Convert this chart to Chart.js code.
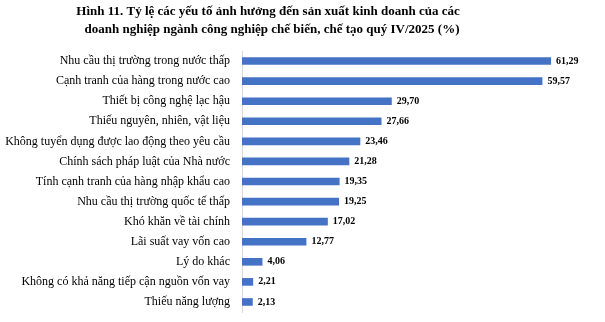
<!DOCTYPE html>
<html>
<head>
<meta charset="utf-8">
<script src="https://cdn.jsdelivr.net/npm/chart.js@4/dist/chart.umd.min.js"></script>
<style>
    html, body { margin: 0; padding: 0; background: #fff; }
    canvas { display: block; }
</style>
</head>
<body>
<canvas id="yeuToChart" width="605" height="322"></canvas>
<script>
// Dữ liệu biểu đồ
var tieuDe = [
    'Hình 11. Tỷ lệ các yếu tố ảnh hưởng đến sản xuất kinh doanh của các',
    'doanh nghiệp ngành công nghiệp chế biến, chế tạo quý IV/2025 (%)'
];
var yeuTo = [
    'Nhu cầu thị trường trong nước thấp',
    'Cạnh tranh của hàng trong nước cao',
    'Thiết bị công nghệ lạc hậu',
    'Thiếu nguyên, nhiên, vật liệu',
    'Không tuyển dụng được lao động theo yêu cầu',
    'Chính sách pháp luật của Nhà nước',
    'Tính cạnh tranh của hàng nhập khẩu cao',
    'Nhu cầu thị trường quốc tế thấp',
    'Khó khăn về tài chính',
    'Lãi suất vay vốn cao',
    'Lý do khác',
    'Không có khả năng tiếp cận nguồn vốn vay',
    'Thiếu năng lượng'
];
var tyLe = [61.29, 59.57, 29.70, 27.66, 23.46, 21.28, 19.35, 19.25, 17.02, 12.77, 4.06, 2.21, 2.13];

// Tiêu đề vẽ tay để căn giữa như bản gốc
var titlePlugin = {
    id: 'tieuDeHinh',
    afterDraw: function(chart) {
        var ctx = chart.ctx;
        ctx.save();
        ctx.fillStyle = '#000';
        ctx.font = 'bold 13px "Liberation Serif"';
        ctx.textAlign = 'center';
        ctx.textBaseline = 'middle';
        ctx.fillText(tieuDe[0], 268, 12);
        ctx.fillText(tieuDe[1], 272, 30);
        ctx.restore();
    }
};

// Nhãn giá trị ở cuối thanh
var valuePlugin = {
    id: 'nhanGiaTri',
    afterDatasetsDraw: function(chart) {
        var ctx = chart.ctx;
        var meta = chart.getDatasetMeta(0);
        ctx.save();
        ctx.fillStyle = '#000';
        ctx.font = 'bold 10px "Liberation Serif"';
        ctx.textAlign = 'left';
        ctx.textBaseline = 'middle';
        meta.data.forEach(function(bar, i) {
            ctx.fillText(tyLe[i].toFixed(2).replace('.', ','), bar.x + 5, bar.y);
        });
        ctx.restore();
    }
};

var ctx = document.getElementById('yeuToChart').getContext('2d');
var chart = new Chart(ctx, {
    type: 'bar',
    data: {
        labels: yeuTo,
        datasets: [{
            data: tyLe,
            backgroundColor: '#4472C4',
            barPercentage: 0.38,
            categoryPercentage: 1
        }]
    },
    options: {
        indexAxis: 'y',
        responsive: false,
        animation: false,
        layout: {
            padding: { top: 51, bottom: 10, left: 0, right: 10 }
        },
        plugins: {
            legend: { display: false },
            title: { display: false },
            tooltip: { enabled: false }
        },
        scales: {
            x: {
                display: false,
                min: 0,
                max: 70
            },
            y: {
                afterFit: function(scale) {
                    scale.width = 242;
                    scale.paddingTop = 0;
                    scale.paddingBottom = 0;
                },
                grid: { display: false, drawTicks: false },
                border: { display: true, color: '#d9d9d9', width: 1 },
                ticks: {
                    color: '#000',
                    padding: 12,
                    font: { family: '"Liberation Serif"', size: 12 }
                }
            }
        }
    },
    plugins: [titlePlugin, valuePlugin]
});
</script>
</body>
</html>
